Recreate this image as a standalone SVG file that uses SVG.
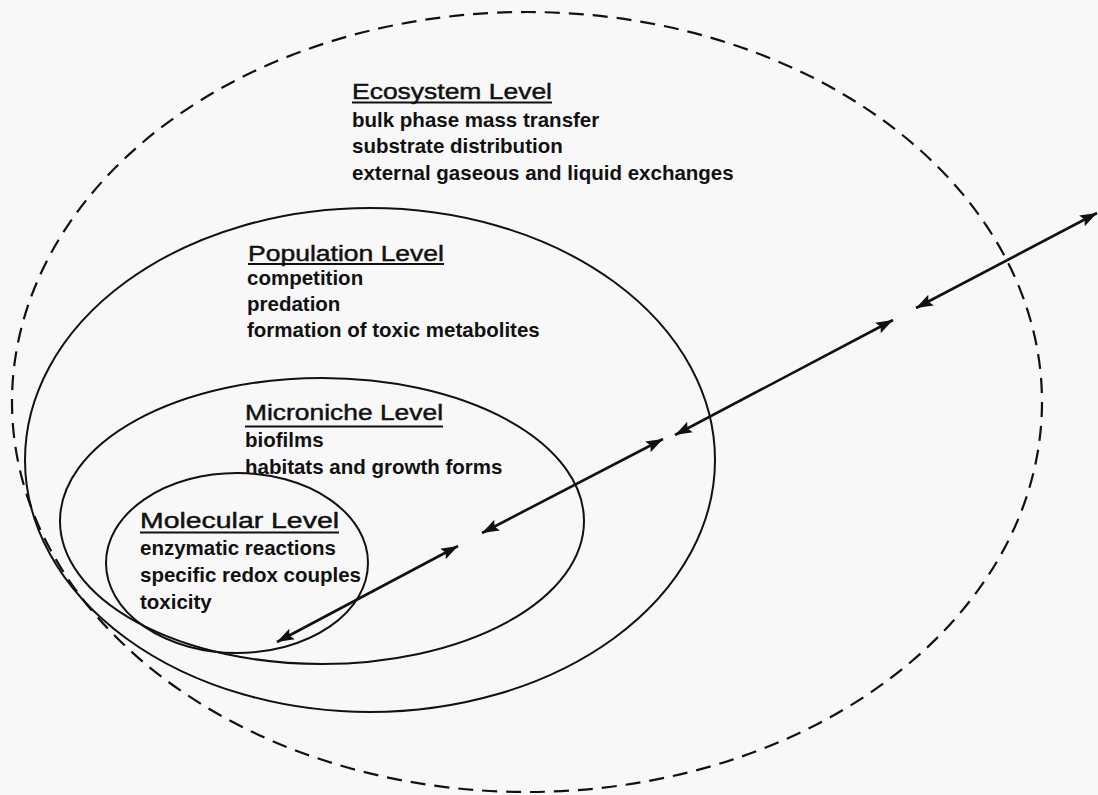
<svg xmlns="http://www.w3.org/2000/svg" width="1098" height="795" viewBox="0 0 1098 795">
<style>
.ring{fill:none;stroke:#111;stroke-width:2}
.dash{fill:none;stroke:#111;stroke-width:2.2;stroke-dasharray:15 9}
.title{font-family:"Liberation Sans",Arial,sans-serif;font-size:22px;fill:#111;stroke:#111;stroke-width:0.45}
.body{font-family:"Liberation Sans",Arial,sans-serif;font-size:20.5px;font-weight:bold;fill:#111}
.ul{stroke:#111;stroke-width:2}
.arrow{stroke:#111;stroke-width:2.6;fill:none;marker-start:url(#ah);marker-end:url(#ah)}
</style>
<defs>
<marker id="ah" markerUnits="userSpaceOnUse" markerWidth="18" markerHeight="14" viewBox="0 0 18 14" refX="17" refY="7" orient="auto-start-reverse">
<path d="M0,1 L17,7 L0,13 L3,7 Z" fill="#111"/>
</marker>
</defs>
<rect width="1098" height="795" fill="#f8f8f8"/>
<g id="ecosystem">
<ellipse class="dash" cx="527" cy="402" rx="515" ry="390"/>
<text class="title" x="352" y="99" textLength="200" lengthAdjust="spacingAndGlyphs">Ecosystem Level</text>
<line class="ul" x1="352" y1="102.5" x2="552" y2="102.5"/>
<text class="body" x="352" y="127">bulk phase mass transfer</text>
<text class="body" x="352" y="153">substrate distribution</text>
<text class="body" x="352" y="180">external gaseous and liquid exchanges</text>
</g>
<g id="population">
<ellipse class="ring" cx="370" cy="460" rx="345" ry="252"/>
<text class="title" x="248" y="261" textLength="196" lengthAdjust="spacingAndGlyphs">Population Level</text>
<line class="ul" x1="248" y1="264" x2="444" y2="264"/>
<text class="body" x="247" y="285">competition</text>
<text class="body" x="247" y="311">predation</text>
<text class="body" x="247" y="337">formation of toxic metabolites</text>
</g>
<g id="microniche">
<ellipse class="ring" cx="322" cy="521" rx="262" ry="143"/>
<text class="title" x="245" y="420" textLength="198" lengthAdjust="spacingAndGlyphs">Microniche Level</text>
<line class="ul" x1="245" y1="426.5" x2="443" y2="426.5"/>
<text class="body" x="245" y="447">biofilms</text>
<text class="body" x="245" y="474">habitats and growth forms</text>
</g>
<g id="molecular">
<ellipse class="ring" cx="237" cy="563" rx="131" ry="90"/>
<text class="title" x="140" y="528" textLength="199" lengthAdjust="spacingAndGlyphs">Molecular Level</text>
<line class="ul" x1="140" y1="532.5" x2="339" y2="532.5"/>
<text class="body" x="140" y="555">enzymatic reactions</text>
<text class="body" x="140" y="582">specific redox couples</text>
<text class="body" x="140" y="609">toxicity</text>
</g>
<g id="connectors">
<line class="arrow" x1="277" y1="642" x2="458" y2="546"/>
<line class="arrow" x1="482" y1="533" x2="663" y2="439"/>
<line class="arrow" x1="675" y1="435" x2="893" y2="320"/>
<line class="arrow" x1="916" y1="308" x2="1097" y2="213"/>
</g>
</svg>
